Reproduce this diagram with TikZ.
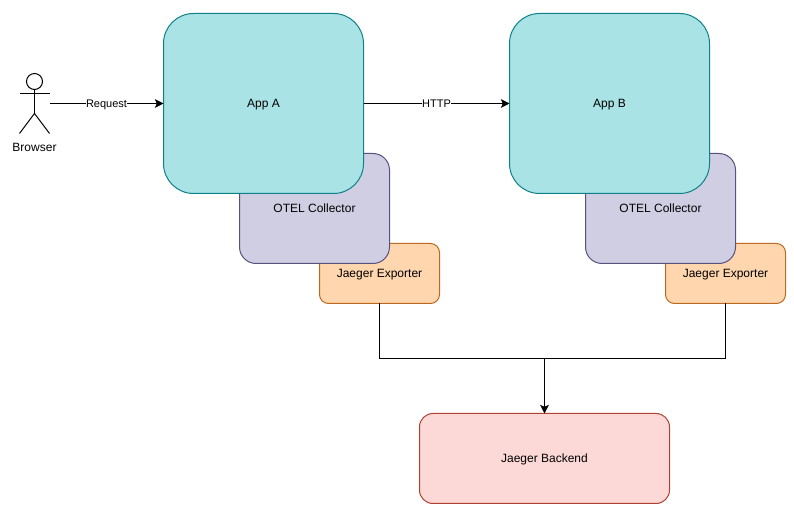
\documentclass[tikz,border=0pt]{standalone}
\usepackage{fontspec}
\usetikzlibrary{arrows.meta}
\setmainfont{Liberation Sans}
\definecolor{appfill}{HTML}{A9E3E5}
\definecolor{appline}{HTML}{0E8088}
\definecolor{otelfill}{HTML}{D0CEE2}
\definecolor{otelline}{HTML}{56517E}
\definecolor{expfill}{HTML}{FFD6AE}
\definecolor{expline}{HTML}{B96A20}
\definecolor{backfill}{HTML}{FCD9D6}
\definecolor{backline}{HTML}{AE4132}
\tikzset{
  box/.style={draw,line width=.75pt,outer sep=0pt,inner sep=0pt,align=center,text height=7.2pt,text depth=1pt},
  appbox/.style={box,fill=appfill,draw=appline,rounded corners=22.5pt,minimum width=150pt,minimum height=135pt},
  otelbox/.style={box,fill=otelfill,draw=otelline,rounded corners=12.4pt,minimum width=112.5pt,minimum height=82.5pt},
  expbox/.style={box,fill=expfill,draw=expline,rounded corners=6.75pt,minimum width=90pt,minimum height=45pt},
  backbox/.style={box,fill=backfill,draw=backline,rounded corners=10.1pt,minimum width=187.5pt,minimum height=67.5pt},
  wire/.style={line width=.75pt},
  edgelabel/.style={fill=white,inner sep=0pt,text height=7pt,text depth=1pt,font=\fontsize{8.25pt}{10pt}\selectfont}
}
\begin{document}
\begin{tikzpicture}[x=.75pt,y=-.75pt,>={Stealth[length=6.5pt,width=6.5pt,inset=1.5pt]},font=\fontsize{9pt}{10.5pt}\selectfont]
\useasboundingbox (0,0) rectangle (794,516);
% first app
\node[expbox] (expA) at (379.5,273.5){Jaeger Exporter};
\node[otelbox] (otelA) at (314.5,208.5){OTEL Collector};
\node[appbox] (appA) at (263.5,103.5){App A};
% second app
\node[expbox] (expB) at (725.5,273.5){Jaeger Exporter};
\node[otelbox] (otelB) at (660.5,208.5){OTEL Collector};
\node[appbox] (appB) at (609.5,103.5){App B};
\node[backbox] (backend) at (544.5,458.5){Jaeger Backend};
% the browser
\node[draw,wire,circle,minimum size=12pt,inner sep=0pt,outer sep=0pt] (head) at (34.5,81.5){};
\coordinate (hip) at (34.5,113.5);
\coordinate (armL) at (19.5,93.5);
\coordinate (armR) at (49.5,93.5);
\coordinate (footL) at (19.5,133.5);
\coordinate (footR) at (49.5,133.5);
\coordinate (hand) at (49.5,103.5);
\draw[wire](head.south)--(hip);
\draw[wire](armL)--(armR);
\draw[wire](footL)--(hip)--(footR);
\node (browser) at (34.5,147){Browser};
% connectors
\draw[wire,->](hand)--(appA.west)node[edgelabel,pos=.5]{Request};
\draw[wire,->](appA.east)--(appB.west)node[edgelabel,pos=.5]{HTTP};
\coordinate (joint) at (544.5,358.5);
\draw[wire](expA.south)|-(joint);
\draw[wire](expB.south)|-(joint);
\draw[wire,->](joint)--(backend.north);
\end{tikzpicture}
\end{document}
